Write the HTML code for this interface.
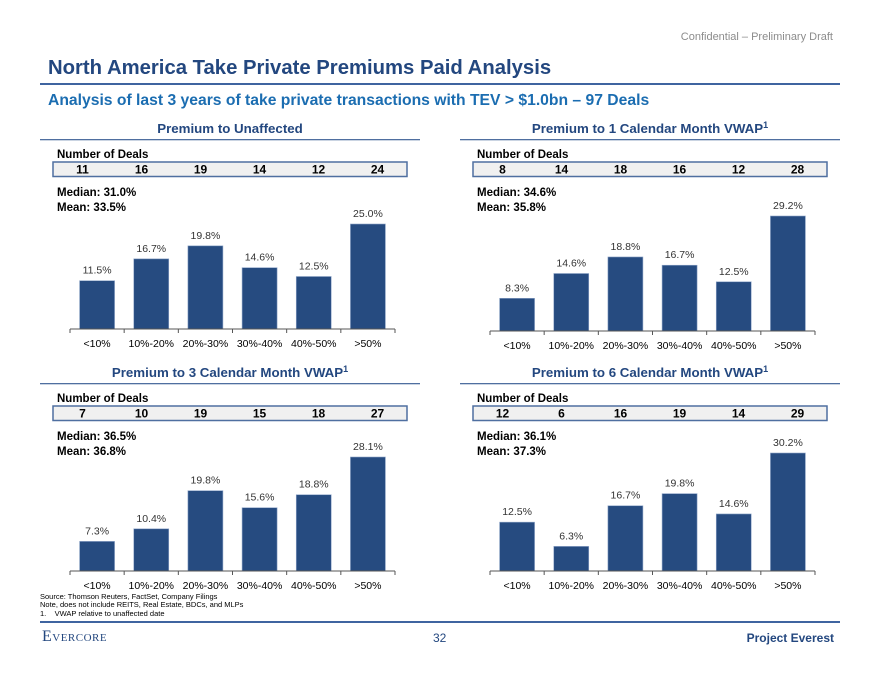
<!DOCTYPE html>
<html><head><meta charset="utf-8">
<style>
body{margin:0;width:880px;height:680px;background:#fff;font-family:"Liberation Sans",Arial,sans-serif;position:relative;overflow:hidden}
.t{position:absolute;white-space:nowrap}
</style></head>
<body>
<div class="t" style="right:47px;top:31px;font-size:11px;color:#8c8c8c">Confidential – Preliminary Draft</div>
<div class="t" style="left:48px;top:57px;font-size:20.3px;font-weight:bold;color:#23477f">North America Take Private Premiums Paid Analysis</div>
<div style="position:absolute;left:40px;top:83px;width:800px;height:2px;background:#3f64a0"></div>
<div class="t" style="left:48px;top:92px;font-size:15.7px;font-weight:bold;color:#1b6db1">Analysis of last 3 years of take private transactions with TEV &gt; $1.0bn – 97 Deals</div>
<svg id="chart" width="880" height="680" style="position:absolute;left:0;top:0" font-family="Liberation Sans, Arial, sans-serif"></svg>
<div class="t" style="left:40px;top:593px;font-size:7.5px;line-height:8.3px;color:#000">Source: Thomson Reuters, FactSet, Company Filings<br>Note, does not include REITS, Real Estate, BDCs, and MLPs<br>1.&nbsp;&nbsp;&nbsp;&nbsp;VWAP relative to unaffected date</div>
<div style="position:absolute;left:40px;top:621px;width:800px;height:2px;background:#3f64a0"></div>
<div class="t" style="left:42px;top:628px;font-family:'Liberation Serif',serif;font-size:16px;color:#23477f;font-variant:small-caps;letter-spacing:0.5px">Evercore</div>
<div class="t" style="left:433px;top:631px;font-size:12px;color:#23477f">32</div>
<div class="t" style="right:46px;top:631px;font-size:12px;font-weight:bold;color:#23477f">Project Everest</div>
<script>
const categories=["<10%","10%-20%","20%-30%","30%-40%","40%-50%",">50%"];
const titles=["Premium to Unaffected","Premium to 1 Calendar Month VWAP","Premium to 3 Calendar Month VWAP","Premium to 6 Calendar Month VWAP"];
const supers=[false,true,true,true];
const valuesUnaffected=[11.5,16.7,19.8,14.6,12.5,25.0];
const values1M=[8.3,14.6,18.8,16.7,12.5,29.2];
const values3M=[7.3,10.4,19.8,15.6,18.8,28.1];
const values6M=[12.5,6.3,16.7,19.8,14.6,30.2];
const dealsUnaffected=[11,16,19,14,12,24];
const deals1M=[8,14,18,16,12,28];
const deals3M=[7,10,19,15,18,27];
const deals6M=[12,6,16,19,14,29];
const medians=["31.0%","34.6%","36.5%","36.1%"];
const means=["33.5%","35.8%","36.8%","37.3%"];
const yMaxes=[25,29.2,28.1,30.2];

const series=[valuesUnaffected,values1M,values3M,values6M];
const deals=[dealsUnaffected,deals1M,deals3M,deals6M];
const panels=[{x:70,base:329,top:133,maxH:105,ox:40},{x:490,base:331,top:133,maxH:115,ox:460},{x:70,base:571,top:377,maxH:114,ox:40},{x:490,base:571,top:377,maxH:118,ox:460}];
const svg=document.getElementById('chart');
const NS="http://www.w3.org/2000/svg";
function mk(tag,attrs,txt){const e=document.createElementNS(NS,tag);for(const k in attrs)e.setAttribute(k,attrs[k]);if(txt!==undefined)e.textContent=txt;svg.appendChild(e);return e;}
const axisW=325,slot=axisW/6,barW=35;
panels.forEach((p,i)=>{
  const xs=j=>p.x+slot*(j+0.5);
  const ys=v=>p.base-v/yMaxes[i]*p.maxH;
  const t=mk('text',{x:p.ox+190,y:p.top,'text-anchor':'middle','font-size':'13.3','font-weight':'bold',fill:'#23477f'});
  t.textContent=titles[i];
  if(supers[i]){const s=document.createElementNS(NS,'tspan');s.setAttribute('dy','-5');s.setAttribute('font-size','9');s.textContent='1';t.appendChild(s);}
  
  
  const r=mk('rect',{x:p.ox,y:p.top+6,width:380,height:1.3,fill:'#4f6fa0'});
  
  
  const nd=mk('text',{x:p.ox+17,y:p.top+25,'font-size':'11.5','font-weight':'bold',fill:'#000'},'Number of Deals');
  
  
  const bx=p.ox+13,by=p.top+29;
  const box=mk('rect',{x:bx,y:by,width:354,height:14.5,fill:'#f0f0f0',stroke:'#4f6fa0','stroke-width':1.5});
  
  
  deals[i].forEach((d,j)=>{
    const e=mk('text',{x:bx+59*(j+0.5),y:by+11.5,'text-anchor':'middle','font-size':'12','font-weight':'bold',fill:'#000'},d);
    
    
  });
  const md=mk('text',{x:p.ox+17,y:p.top+63,'font-size':'11.5','font-weight':'bold'},'Median: '+medians[i]);
  
  
  const mn=mk('text',{x:p.ox+17,y:p.top+78,'font-size':'11.5','font-weight':'bold'},'Mean: '+means[i]);
  
  
  series[i].forEach((v,j)=>{
    const b=mk('rect',{x:xs(j)-barW/2,y:ys(v),width:barW,height:p.base-ys(v),fill:'#264b80',stroke:'#8fa6c8','stroke-width':0.6});
    
    
    const l=mk('text',{x:xs(j),y:ys(v)-7,'text-anchor':'middle','font-size':'10.5',fill:'#333'},v.toFixed(1)+'%');
    
    
    const c=mk('text',{x:xs(j),y:p.base+18,'text-anchor':'middle','font-size':'10.5',fill:'#000'},categories[j]);
    
    
  });
  const ax=mk('line',{x1:p.x,y1:p.base,x2:p.x+axisW,y2:p.base,stroke:'#555','stroke-width':1});
  
  
  for(let k=0;k<=6;k++){
    const tk=mk('line',{x1:p.x+slot*k,y1:p.base,x2:p.x+slot*k,y2:p.base+4,stroke:'#555','stroke-width':1});
    
    
  }
});
</script>
</body></html>
